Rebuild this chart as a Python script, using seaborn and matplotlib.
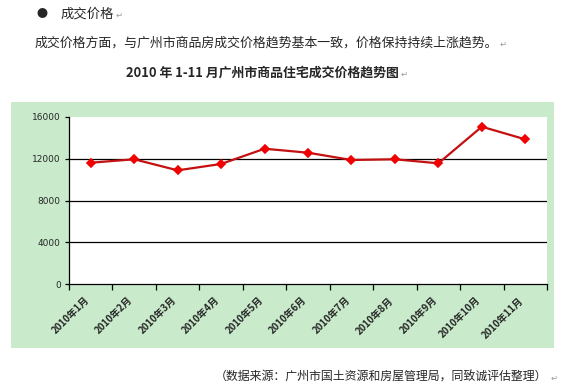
import numpy as np
import pandas as pd
import seaborn as sns
import matplotlib.pyplot as plt

months = ["2010年1月", "2010年2月", "2010年3月", "2010年4月", "2010年5月", "2010年6月",
          "2010年7月", "2010年8月", "2010年9月", "2010年10月", "2010年11月"]
prices = [11620, 11950, 10890, 11500, 12960, 12580, 11880, 11950, 11560, 15070, 13860]
yticks = [0, 4000, 8000, 12000, 16000]

sns.set_style("white")
plt.rcParams['font.family'] = ['Noto Sans CJK SC', 'DejaVu Sans']

W, H = 561, 389
fig = plt.figure(figsize=(W / 100, H / 100), dpi=100)
fig.patch.set_facecolor("white")

def fx(px):
    return px / W

def fy(py):
    return 1 - py / H

# green chart panel behind the plot
bg = fig.add_axes([fx(11), fy(348), fx(554) - fx(11), fy(102) - fy(348)])
bg.set_facecolor("#c9ebcc")
bg.set_xticks([])
bg.set_yticks([])
for s in bg.spines.values():
    s.set_visible(False)
bg.set_zorder(0)

ax = fig.add_axes([fx(69), fy(284), fx(547) - fx(69), fy(117) - fy(284)])
ax.set_zorder(1)
ax.set_facecolor("white")

df = pd.DataFrame({"month": months, "price": prices})
sns.pointplot(data=df, x="month", y="price", order=months, ax=ax,
              color="#c41010", markers="D", markersize=4, linewidth=1.6,
              errorbar=None)
ax.lines[0].set_markerfacecolor("#f00000")
ax.lines[0].set_markeredgecolor("#f00000")

ax.set_xlim(-0.5, len(months) - 0.5)
ax.set_ylim(0, 16000)
ax.set_yticks(yticks)
ax.set_yticklabels([str(v) for v in yticks], fontsize=6.5, family="DejaVu Sans")
for v in yticks[1:-1]:
    ax.axhline(v, color="black", lw=0.9, zorder=0)

ax.set_xticks(np.arange(-0.5, len(months), 1))
ax.set_xticklabels([])
ax.set_xticks(np.arange(len(months)) - 0.15, minor=True)
ax.set_xticklabels(months, minor=True, rotation=45, ha="right", va="top",
                   rotation_mode="anchor", fontsize=7, fontweight="bold")
ax.tick_params(axis="x", which="major", direction="out", length=4, width=0.9, color="black", bottom=True)
ax.tick_params(axis="x", which="minor", length=0, pad=8)
ax.tick_params(axis="y", direction="out", length=3, width=0.9, color="black", left=True, pad=3)
ax.set_xlabel("")
ax.set_ylabel("")
sns.despine(ax=ax, top=True, right=True)
for s in ["left", "bottom"]:
    ax.spines[s].set_color("black")
    ax.spines[s].set_linewidth(0.9)

# text above and below the chart
ret = dict(color="#999999", fontsize=6)
fig.text(fx(42), fy(14), "●", fontsize=8, ha="center", va="center")
fig.text(fx(61), fy(14), "成交价格", fontsize=9.6, va="center")
fig.text(fx(116), fy(15), "↵", va="center", **ret)
fig.text(fx(35), fy(43), "成交价格方面，与广州市商品房成交价格趋势基本一致，价格保持持续上涨趋势。",
         fontsize=9.3, va="center")
fig.text(fx(500), fy(44), "↵", va="center", **ret)
fig.text(fx(262), fy(73), "2010 年 1-11 月广州市商品住宅成交价格趋势图",
         fontsize=9.3, fontweight="bold", ha="center", va="center")
fig.text(fx(401), fy(74), "↵", va="center", **ret)
fig.text(fx(547), fy(377), "（数据来源：广州市国土资源和房屋管理局，同致诚评估整理）",
         fontsize=8.6, ha="right", va="center")
fig.text(fx(551), fy(378), "↵", va="center", **ret)

fig.savefig("out.png", dpi=100, facecolor="white")
